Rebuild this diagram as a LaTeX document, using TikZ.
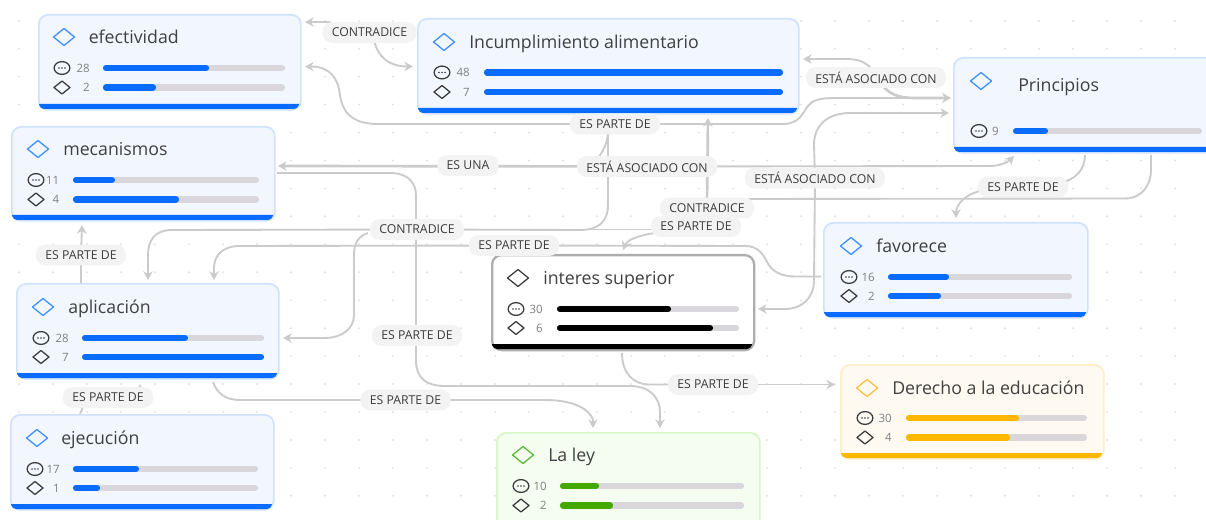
\documentclass[tikz,border=0pt]{standalone}
\usepackage{fontspec}
\setmainfont{Open Sans}
\usetikzlibrary{arrows.meta}
\definecolor{cblue}{HTML}{0A6CFF}
\definecolor{cblueb}{HTML}{CFE3FF}
\definecolor{cbluef}{HTML}{F1F6FF}
\definecolor{cblued}{HTML}{3D90FF}
\definecolor{cgreen}{HTML}{44A800}
\definecolor{cgreenb}{HTML}{D8F7C4}
\definecolor{cgreenf}{HTML}{F4FDF0}
\definecolor{cgreend}{HTML}{5AB838}
\definecolor{cyel}{HTML}{FFB800}
\definecolor{cyelb}{HTML}{FFEFC8}
\definecolor{cyelf}{HTML}{FEFAF2}
\definecolor{cyeld}{HTML}{FDC03C}
\definecolor{cdark}{HTML}{3C3C3C}
\definecolor{cline}{HTML}{CBCBCB}
\definecolor{cbar}{HTML}{D9D7DB}
\definecolor{cpill}{HTML}{F3F3F3}
\definecolor{cdot}{HTML}{E4E4E4}
\tikzset{
  x=0.75pt,y=-0.75pt,
  conn/.style={draw=cline,line width=1.4pt},
  connarrow/.style={conn,-{Stealth[length=6.5pt,width=7pt]}},
  connthick/.style={line width=2pt},
  pill/.style={fill=cpill,rounded corners=7pt,inner xsep=7pt,inner ysep=0pt,minimum height=15.5pt,
    font=\fontsize{9.2}{11}\selectfont,text=cdark},
  cardbox/.style={anchor=north west,rounded corners=7pt,inner sep=0pt},
  cardtitle/.style={anchor=west,inner sep=0pt,yshift=-1.4pt,text height=9.6pt,text depth=2.6pt,font=\fontsize{13.3}{15}\selectfont,text=black!75},
  cardcount/.style={anchor=east,inner sep=0pt,font=\fontsize{8.6}{10}\selectfont,text=black!50},
  bluecard/.style={cardbox,fill=cbluef,draw=cblueb,line width=1.3pt},
  greencard/.style={cardbox,fill=cgreenf,draw=cgreenb,line width=1.3pt},
  yelcard/.style={cardbox,fill=cyelf,draw=cyelb,line width=1.3pt},
  blackcard/.style={cardbox,fill=white,draw=black!32,line width=1.7pt},
}
% #1 name, #2 x0, #3 y0, #4 x1, #5 y1, #6 style, #7 bar colour
\newcommand{\cardshape}[7]{%
  \node[#6,minimum width={(#4-#2)*0.75pt},minimum height={(#5-#3)*0.75pt}] (#1) at (#2,#3) {};
  \fill[#7] ({#2+1},{#5-5}) -- ({#4-1},{#5-5}) [rounded corners=3pt] -- ({#4-2},#5) -- ({#2+2},#5) [sharp corners] -- cycle;
}
% #1 cx, #2 cy, #3 colour
\newcommand{\headdiamond}[3]{%
  \draw[#3,line width=0.95pt,line join=round] ({#1-10.5},#2) -- (#1,{#2-8.5}) -- ({#1+10.5},#2) -- (#1,{#2+8.5}) -- cycle;
}
\newcommand{\rowbar}[5]{%
  \draw[cbar,line width=4.6pt,line cap=round] ({#1+3},#4) -- ({#2-3},#4);
  \draw[#5,line width=4.6pt,line cap=round] ({#1+3},#4) -- ({#3-3},#4);
}
% #1 name, #2 y, #3 icon x, #4 count right, #5 count, #6 bar x0, #7 bar x1, #8 fill x, #9 colour
\newcommand{\rowC}[9]{%
  \draw[cdark,line width=0.95pt] (#3,#2) ellipse [x radius=5.9pt,y radius=4.8pt];
  \fill[cdark] ({#3-3},#2) circle (0.6pt) (#3,#2) circle (0.6pt) ({#3+3},#2) circle (0.6pt);
  \node[cardcount] (#1) at (#4,#2) {#5};
  \rowbar{#6}{#7}{#8}{#2}{#9}
}
\newcommand{\rowD}[9]{%
  \draw[cdark,line width=0.95pt,line join=round] ({#3-8},#2) -- (#3,{#2-6.5}) -- ({#3+8},#2) -- (#3,{#2+6.5}) -- cycle;
  \node[cardcount] (#1) at (#4,#2) {#5};
  \rowbar{#6}{#7}{#8}{#2}{#9}
}
\begin{document}
\begin{tikzpicture}
\useasboundingbox (0,0) rectangle (1206,520);
\clip (0,0) rectangle (1206,520);
\fill[white] (0,0) rectangle (1206,520);
% dotted canvas
\foreach \i in {0,...,35} \foreach \j in {0,...,18}
  \fill[cdot] ({19+34*\i},{20.7+27.95*\j}) circle (0.85pt);

% ---------- label centres
\path
  (369.5,32.5) coordinate (pContraA)
  (615,124) coordinate (pParteA)
  (468,165.5) coordinate (pUna)
  (647,166.5) coordinate (pAsocA)
  (417,229.5) coordinate (pContraB)
  (707,208) coordinate (pContraC)
  (1023,187) coordinate (pParteB)
  (815,178) coordinate (pAsocB)
  (876,77.5) coordinate (pAsocC)
  (514,245.5) coordinate (pParteC)
  (696,226.5) coordinate (pParteD)
  (81,255) coordinate (pParteE)
  (108,397.5) coordinate (pParteF)
  (417,335.5) coordinate (pParteG)
  (405.5,400) coordinate (pParteH)
  (713,384.5) coordinate (pParteI);

% ---------- connector end points
\coordinate (tEfA) at (305,22);
\coordinate (tEfB) at (305,66.5);
\coordinate (tInA) at (413,66.5);
\coordinate (tInB) at (708,118);
\coordinate (tInC) at (803,59);
\coordinate (tPrA) at (951,98);
\coordinate (tPrB) at (949,113);
\coordinate (tPrC) at (1014,156);
\coordinate (tMeA) at (278,166);
\coordinate (sMeB) at (277,173);
\coordinate (tMeC) at (82,225);
\coordinate (sPrD) at (1151,155);
\coordinate (sPrE) at (1085,155);
\coordinate (tFaA) at (956,218);
\coordinate (sFaB) at (821,276.5);
\coordinate (tSuA) at (623,250);
\coordinate (tSuB) at (758,309);
\coordinate (sSuC) at (622,353);
\coordinate (tApA) at (148,280);
\coordinate (tApB) at (214,280);
\coordinate (tApC) at (283,338);
\coordinate (sApD) at (81,283);
\coordinate (tApE) at (140,384);
\coordinate (sApF) at (213,382);
\coordinate (sEjA) at (80,414);
\coordinate (tLeA) at (593,428);
\coordinate (tLeB) at (660,428);
\coordinate (tDeA) at (835,384.5);

% ---------- connectors
\draw[connarrow] (pContraA) -- (340,30) .. controls (335,22) and (330,22) .. (325,22) -- (tEfA);
\draw[connarrow] (374,40) .. controls (378,58) and (390,66.5) .. (tInA);
\draw[connarrow] (pParteA) -- (378,124) .. controls (350,124) and (342,110) .. (340,95) .. controls (338,78) and (330,66.5) .. (tEfB);
\draw[connarrow] (pParteA) -- (783,124) .. controls (800,124) and (803,112) .. (808,106) .. controls (812,100) and (820,98) .. (835,98) -- (tPrA);
\draw[conn] (608,130) -- (608,205) .. controls (608,222) and (598,230) .. (580,230) -- (pContraB);
\draw[conn] (608,130) .. controls (608,142) and (604,150) .. (598,158);
\draw[connarrow,connthick] (pAsocA) -- (tMeA);
\draw[connarrow] (pAsocA) -- (990,166) .. controls (1000,166) and (1008,162) .. (tPrC);
\draw[connarrow] (sMeB) -- (390,173) .. controls (408,173) and (416,183) .. (416,195) -- (416,360) .. controls (416,378) and (426,386) .. (445,386) -- (630,386) .. controls (650,386) and (660,398) .. (660,412) -- (tLeB);
\draw[connarrow] (pContraB) -- (172,230) .. controls (155,230) and (148,240) .. (148,255) -- (tApA);
\draw[connarrow] (368,233) .. controls (358,236) and (354,244) .. (354,255) -- (354,315) .. controls (354,330) and (340,338) .. (325,338) -- (tApC);
\draw[conn] (pContraB) -- (pParteD |- pContraB);
\draw[conn] (740,199) -- (1125,198.5) .. controls (1142,198.5) and (1151,185) .. (1151,170) -- (sPrD);
\draw[connarrow,connthick] (707,203) -- (tInB);
\draw[conn] (1060,183) .. controls (1075,180) and (1085,170) .. (sPrE);
\draw[connarrow] (985,190) .. controls (965,193) and (956,205) .. (tFaA);
\draw[connarrow] (pAsocB) -- (814,145) .. controls (814,125) and (828,113) .. (850,113) -- (tPrB);
\draw[connarrow] (pAsocB) -- (814,280) .. controls (814,298) and (802,309) .. (785,309) -- (tSuB);
\draw[connarrow] (875,75) -- (870,67) .. controls (862,60) and (855,59) .. (845,59) -- (tInC);
\draw[connarrow,connthick] (882,85) .. controls (890,95) and (900,98) .. (915,98) -- (tPrA);
\draw[connarrow] (pParteC) -- (240,246) .. controls (222,246) and (214,256) .. (214,268) -- (tApB);
\draw[conn] (pParteC) -- (745,246) .. controls (758,246) and (763,254) .. (767,262) .. controls (772,272) and (782,276.5) .. (795,276.5) -- (sFaB);
\draw[connarrow] (662,232) .. controls (645,234) and (628,238) .. (tSuA);
\draw[connarrow] (pParteE) -- (tMeC);
\draw[conn] (pParteE) -- (sApD);
\draw[connarrow] (140,396) -- (tApE);
\draw[conn] (84,405) -- (sEjA);
\draw[conn] (pParteH) -- (240,400) .. controls (225,400) and (217,393) .. (sApF);
\draw[connarrow] (pParteH) -- (545,400) .. controls (575,400) and (590,410) .. (593,420) -- (tLeA);
\draw[conn] (pParteI) -- (650,384.5) .. controls (632,384.5) and (622,372) .. (sSuC);
\draw[connarrow] (pParteI) -- (tDeA);

% ---------- cards
\cardshape{efect}{38}{14}{300}{109}{bluecard}{cblue}
\headdiamond{64}{37}{cblued}
\node[cardtitle] (efectT) at (88.5,37) {efectividad};
\rowC{efectA}{68}{62}{90}{28}{103}{285}{209}{cblue}
\rowD{efectB}{87.5}{62}{90}{2}{103}{285}{156}{cblue}

\cardshape{incum}{417}{18}{798}{113}{bluecard}{cblue}
\headdiamond{444}{42}{cblued}
\node[cardtitle] (incumT) at (469,42) {Incumplimiento alimentario};
\rowC{incumA}{72.5}{442}{470}{48}{484}{783}{783}{cblue}
\rowD{incumB}{92}{442}{470}{7}{484}{783}{783}{cblue}

\cardshape{princ}{953}{57}{1230}{152}{bluecard}{cblue}
\headdiamond{981}{81}{cblued}
\node[cardtitle] (princT) at (1018,85) {Principios};
\rowC{princA}{131}{979}{999}{9}{1013}{1202}{1048}{cblue}

\cardshape{mecan}{11}{126}{274}{220}{bluecard}{cblue}
\headdiamond{38}{149}{cblued}
\node[cardtitle] (mecanT) at (63,149) {mecanismos};
\rowC{mecanA}{180}{36}{59.5}{11}{73}{259}{115}{cblue}
\rowD{mecanB}{199.5}{36}{59.5}{4}{73}{259}{179}{cblue}

\cardshape{aplic}{16}{283}{278}{378}{bluecard}{cblue}
\headdiamond{43}{307}{cblued}
\node[cardtitle] (aplicT) at (68,307) {aplicación};
\rowC{aplicA}{338}{41}{69}{28}{82}{264}{188}{cblue}
\rowD{aplicB}{357}{41}{69}{7}{82}{264}{264}{cblue}

\cardshape{ejecu}{10}{414}{273}{509}{bluecard}{cblue}
\headdiamond{37}{438}{cblued}
\node[cardtitle] (ejecuT) at (61,438) {ejecución};
\rowC{ejecuA}{469}{35}{60}{17}{73}{258}{139}{cblue}
\rowD{ejecuB}{488}{35}{60}{1}{73}{258}{100}{cblue}

\cardshape{inter}{491}{254}{753}{349}{blackcard}{black}
\headdiamond{518}{278}{cdark}
\node[cardtitle] (interT) at (543,278) {interes superior};
\rowC{interA}{309}{516}{543}{30}{557}{739}{671}{black}
\rowD{interB}{328}{516}{543}{6}{557}{739}{713}{black}

\cardshape{laley}{496}{432}{759}{540}{greencard}{cgreen}
\headdiamond{523}{455}{cgreend}
\node[cardtitle] (laleyT) at (548,455) {La ley};
\rowC{laleyA}{486}{521}{547}{10}{560}{744}{599}{cgreen}
\rowD{laleyB}{505.5}{521}{547}{2}{560}{744}{613}{cgreen}

\cardshape{favor}{823}{222}{1087}{317}{bluecard}{cblue}
\headdiamond{851}{246}{cblued}
\node[cardtitle] (favorT) at (876,246) {favorece};
\rowC{favorA}{277}{849}{875}{16}{888}{1072}{949}{cblue}
\rowD{favorB}{296}{849}{875}{2}{888}{1072}{941}{cblue}

\cardshape{derec}{840}{364}{1103}{458}{yelcard}{cyel}
\headdiamond{867}{388}{cyeld}
\node[cardtitle] (derecT) at (892,388) {Derecho a la educación};
\rowC{derecA}{418}{865}{892}{30}{906}{1087}{1019}{cyel}
\rowD{derecB}{437.5}{865}{892}{4}{906}{1087}{1010}{cyel}

% ---------- connector labels
\node[pill] (lContraA) at (pContraA) {CONTRADICE};
\node[pill] (lParteA) at (pParteA) {ES PARTE DE};
\node[pill] (lUna) at (pUna) {ES UNA};
\node[pill] (lAsocA) at (pAsocA) {ESTÁ ASOCIADO CON};
\node[pill] (lContraB) at (pContraB) {CONTRADICE};
\node[pill] (lContraC) at (pContraC) {CONTRADICE};
\node[pill] (lParteD) at (pParteD) {ES PARTE DE};
\node[pill] (lParteB) at (pParteB) {ES PARTE DE};
\node[pill] (lAsocB) at (pAsocB) {ESTÁ ASOCIADO CON};
\node[pill] (lAsocC) at (pAsocC) {ESTÁ ASOCIADO CON};
\node[pill] (lParteC) at (pParteC) {ES PARTE DE};
\node[pill] (lParteE) at (pParteE) {ES PARTE DE};
\node[pill] (lParteF) at (pParteF) {ES PARTE DE};
\node[pill] (lParteG) at (pParteG) {ES PARTE DE};
\node[pill] (lParteH) at (pParteH) {ES PARTE DE};
\node[pill] (lParteI) at (pParteI) {ES PARTE DE};
\end{tikzpicture}
\end{document}
